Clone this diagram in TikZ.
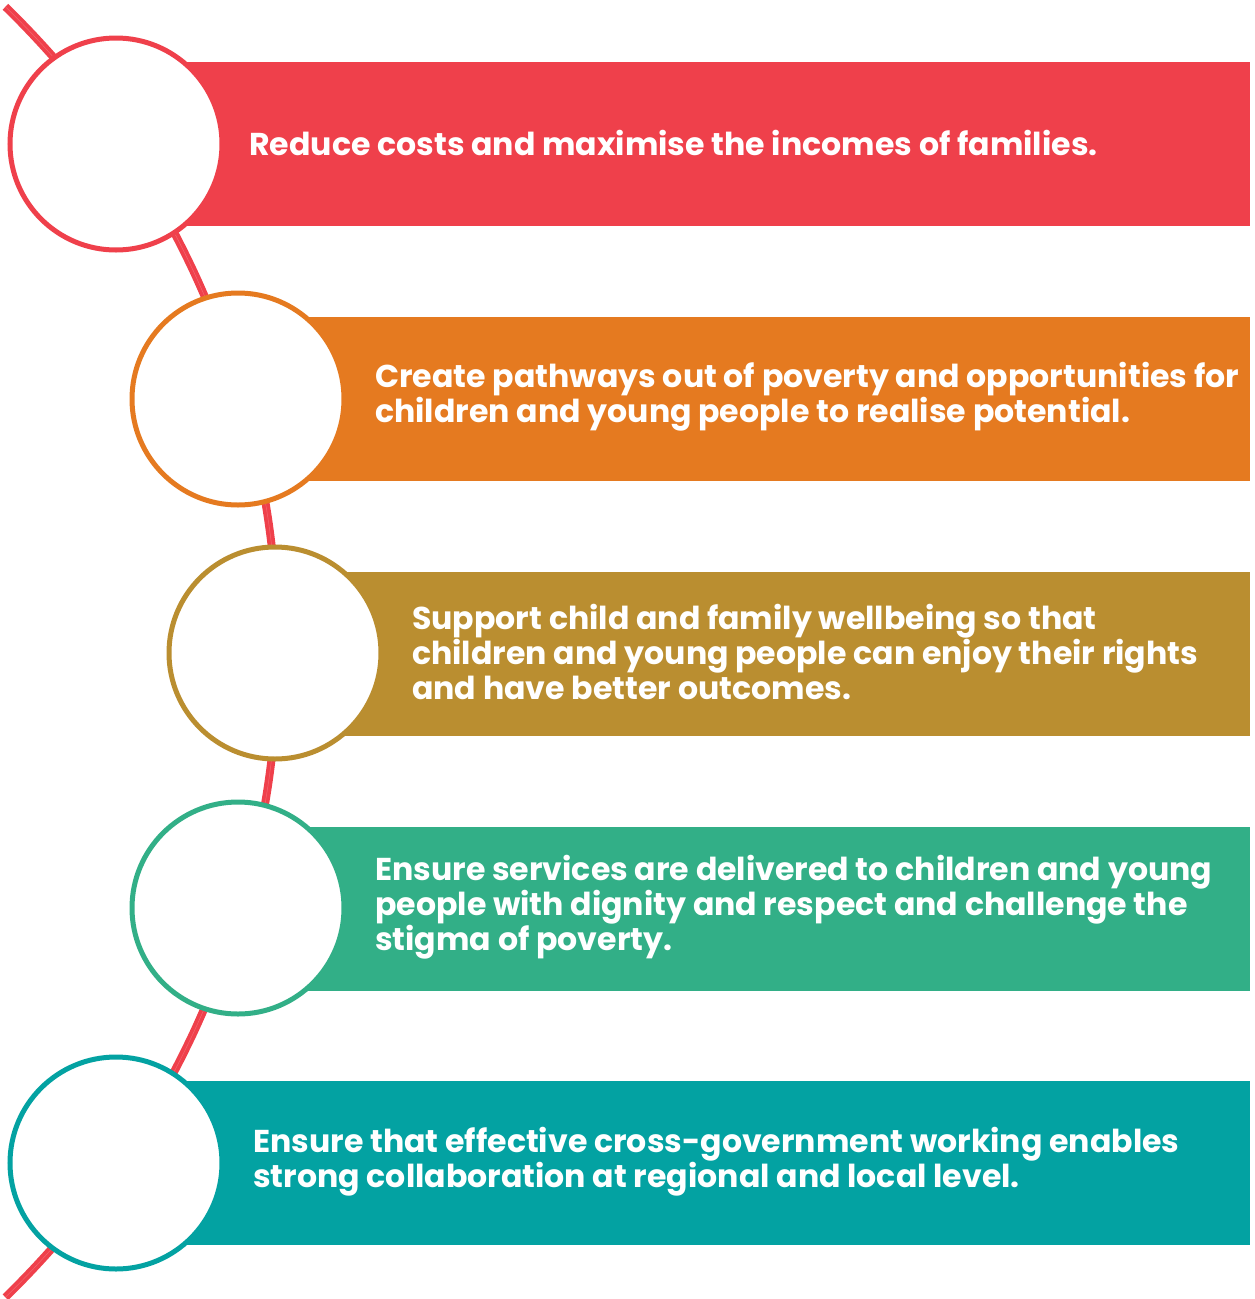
\documentclass[tikz,border=0pt]{standalone}
\usepackage{fontspec}
\setmainfont{Poppins}
\definecolor{cRed}{HTML}{EF404B}
\definecolor{cOrange}{HTML}{E57A20}
\definecolor{cGold}{HTML}{BA8E30}
\definecolor{cGreen}{HTML}{32AF87}
\definecolor{cTeal}{HTML}{03A2A2}
\begin{document}
\begin{tikzpicture}[x=1pt,y=-1pt,
  bar/.style={rectangle,inner sep=0pt,minimum height=164pt,anchor=north west},
  ring/.style={circle,draw=#1,fill=white,line width=5pt,minimum size=212pt,inner sep=0pt},
  label/.style={anchor=west,align=left,text=white,font=\fontsize{31.6}{35}\selectfont\bfseries,inner sep=0pt}]
\useasboundingbox (0,0) rectangle (1254,1299);
% bars
\node[bar,fill=cRed,minimum width=1134pt]    (b1) at (116,62) {};
\node[bar,fill=cOrange,minimum width=1012pt] (b2) at (238,317) {};
\node[bar,fill=cGold,minimum width=975pt]    (b3) at (275,572) {};
\node[bar,fill=cGreen,minimum width=1012pt]  (b4) at (238,827) {};
\node[bar,fill=cTeal,minimum width=1134pt]   (b5) at (116,1081) {};
% timeline arc
\draw[cRed,line width=8pt] plot[domain=-45.8:45.8,samples=120,smooth] ({-622+900*cos(\x)},{652+900*sin(\x)});
\draw[white,opacity=0.2,line width=0.5pt] plot[domain=-45.8:45.8,samples=120,smooth] ({-622+900*cos(\x)},{652+900*sin(\x)});
% circles
\node[ring=cRed]    (c1) at (116,144) {};
\node[ring=cOrange] (c2) at (238,399) {};
\node[ring=cGold]   (c3) at (275,653) {};
\node[ring=cGreen]  (c4) at (238,908) {};
\node[ring=cTeal]   (c5) at (116,1163) {};
% texts
\node[label] (t1) at (249,143) {Reduce costs and maximise the incomes of families.};
\node[label] (t2) at (375,397) {Create pathways out of poverty and opportunities for\\children and young people to realise potential.};
\node[label] (t3) at (412,652) {Support child and family wellbeing so that\\children and young people can enjoy their rights\\and have better outcomes.};
\node[label] (t4) at (375,907) {Ensure services are delivered to children and young\\people with dignity and respect and challenge the\\stigma of poverty.};
\node[label] (t5) at (253,1162) {Ensure that effective cross-government working enables\\strong collaboration at regional and local level.};
\end{tikzpicture}
\end{document}
